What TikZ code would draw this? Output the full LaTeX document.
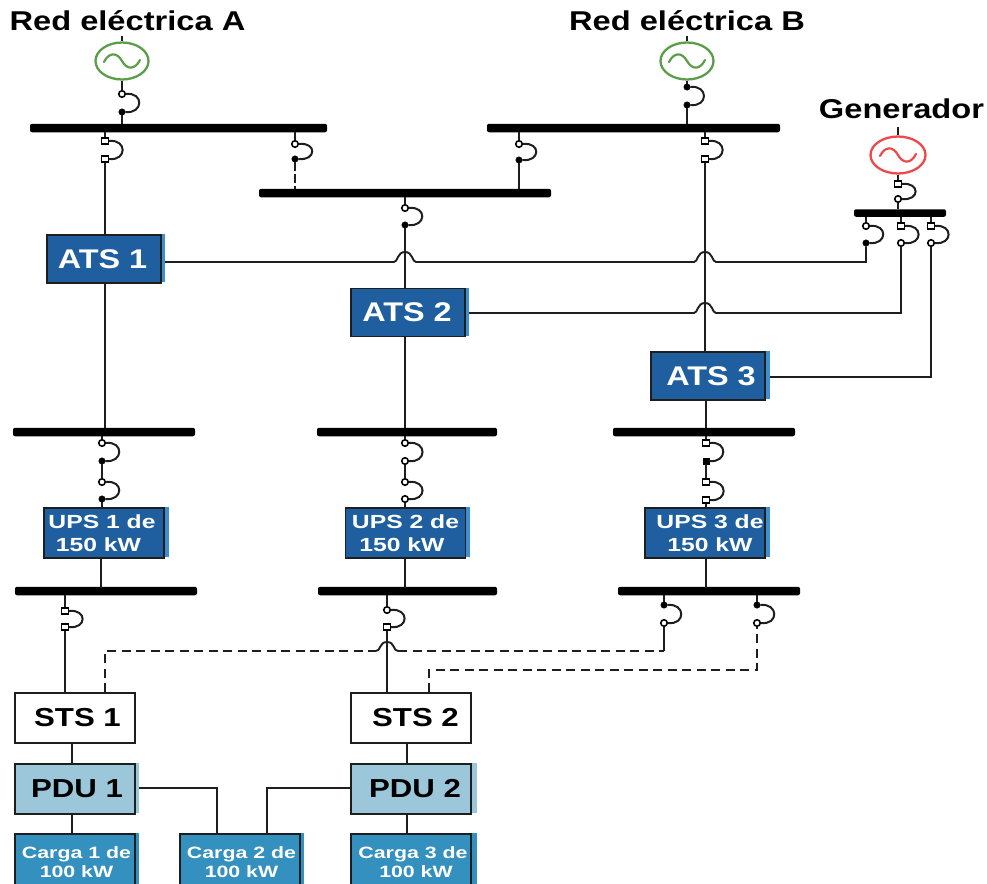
\documentclass[tikz,border=0pt]{standalone}
\usepackage{fontspec}
\usetikzlibrary{shapes.geometric}
\newfontfamily\labA{Liberation Sans}[FakeStretch=1.2]
\newfontfamily\labB{Liberation Sans}[FakeStretch=1.3]
\definecolor{atsblue}{HTML}{1F5F9F}
\definecolor{stripblue}{HTML}{3F8FD0}
\definecolor{pdublue}{HTML}{9CC6DA}
\definecolor{cargablue}{HTML}{3490BE}
\definecolor{wire}{HTML}{1E1E1E}
\definecolor{genA}{HTML}{5A9E48}
\definecolor{genR}{HTML}{F04848}
\tikzset{
  wireline/.style={draw=wire,line width=1.9pt},
  dashline/.style={wireline,dash pattern=on 9pt off 5.5pt},
  busbar/.style={fill=black,rectangle,rounded corners=2pt,inner sep=0pt,minimum height=8.5pt},
  tsq/.style={rectangle,draw=black,fill=white,line width=1.3pt,inner sep=0pt,minimum width=7pt,minimum height=6pt},
  tci/.style={circle,draw=black,fill=white,line width=1.6pt,inner sep=0pt,minimum size=6.5pt},
  tdot/.style={circle,draw=black,fill=black,inner sep=0pt,minimum size=6.5pt},
  tbsq/.style={rectangle,draw=black,fill=black,inner sep=0pt,minimum size=6.5pt},
  gen/.style={ellipse,draw,line width=2.3pt,inner sep=0pt,minimum width=53pt,minimum height=37pt},
  boxbase/.style={rectangle,draw=wire,line width=1.8pt,inner sep=0pt,align=center},
  atsbox/.style={boxbase,fill=atsblue,text=white,minimum width=114pt,minimum height=48pt,font=\labA\bfseries\fontsize{27}{27}\selectfont},
  upsbox/.style={boxbase,fill=atsblue,text=white,minimum width=120pt,minimum height=50pt,font=\labB\bfseries\fontsize{19}{23}\selectfont},
  stsbox/.style={boxbase,fill=white,text=black,minimum width=120pt,minimum height=50pt,font=\labA\bfseries\fontsize{26}{26}\selectfont},
  pdubox/.style={boxbase,fill=pdublue,text=black,minimum width=120pt,minimum height=50pt,font=\labA\bfseries\fontsize{26}{26}\selectfont},
  cargabox/.style={boxbase,fill=cargablue,text=white,minimum width=120pt,minimum height=56pt,font=\labB\bfseries\fontsize{16.4}{19}\selectfont},
  title/.style={inner sep=0pt,text=black,font=\labA\bfseries\fontsize{27.2}{28}\selectfont},
}
% name, x, y top, y bottom, style top, style bottom
\newcommand{\breaker}[6]{%
  \node[#5] (#1t) at (#2,#3) {};
  \node[#6] (#1b) at (#2,#4) {};
  \draw[wire,line width=2pt] (#1t.east) .. controls +(18,-2) and +(18,2) .. (#1b.east);
}
% arch over a vertical wire at x, wire height y
\newcommand{\arch}[2]{-- (#1-11,#2) .. controls (#1-7,#2) and (#1-8,#2-10) .. (#1,#2-10) .. controls (#1+8,#2-10) and (#1+7,#2) .. (#1+11,#2)}
\newcommand{\sinewave}[3]{%
  \draw[#3,line width=2.2pt,line cap=round] (#1-18,#2+1) .. controls (#1-13,#2-9) and (#1-5,#2-9) .. (#1,#2) .. controls (#1+5,#2+9) and (#1+13,#2+9) .. (#1+18,#2-1);
}
\begin{document}
\begin{tikzpicture}[x=1pt,y=-1pt]
\useasboundingbox (0,0) rectangle (987,883);
\clip (0,0) rectangle (987,883);
\fill[white] (0,0) rectangle (987,883);

% titles
\node[title] (tA) at (127.5,21) {Red eléctrica A};
\node[title] (tB) at (687,21) {Red eléctrica B};
\node[title] (tG) at (901.5,109) {Generador};

% generators
\node[gen,draw=genA] (gA) at (122,61) {};
\node[gen,draw=genA] (gB) at (687,61) {};
\node[gen,draw=genR,minimum width=55pt] (gG) at (898,155) {};
\sinewave{122}{61}{genA}
\sinewave{687}{61}{genA}
\sinewave{898}{155}{genR}
\coordinate (sA) at (122,36);
\coordinate (sB) at (687,36);
\coordinate (sG) at (898,127);
\draw[wireline] (sA) -- (gA.north);
\draw[wireline] (sB) -- (gB.north);
\draw[wireline] (sG) -- (gG.north);

% bus bars
\node[busbar,minimum width=297pt] (busA) at (178.5,128) {};
\node[busbar,minimum width=293pt] (busB) at (633.5,128) {};
\node[busbar,minimum width=292pt] (busC) at (405,193) {};
\node[busbar,minimum width=92pt,minimum height=7.5pt] (busG) at (900,213) {};
\node[busbar,minimum width=182pt] (busD1) at (104,432) {};
\node[busbar,minimum width=180pt] (busD2) at (407,432) {};
\node[busbar,minimum width=182pt] (busD3) at (704,432) {};
\node[busbar,minimum width=182pt] (busE1) at (106,591) {};
\node[busbar,minimum width=179pt] (busE2) at (407.5,591) {};
\node[busbar,minimum width=182pt] (busE3) at (709,591) {};

% boxes
\node[atsbox] (ats1) at (104,259) {\hspace*{-3pt}ATS 1};
\node[atsbox] (ats2) at (408,312.5) {\hspace*{-2pt}ATS 2};
\node[atsbox] (ats3) at (708,376) {\hspace*{6pt}ATS 3};
\node[upsbox] (ups1) at (104,533) {\hspace*{-4pt}UPS 1 de\\\hspace*{-11pt}150 kW};
\node[upsbox] (ups2) at (405.5,533) {UPS 2 de\\\hspace*{-7pt}150 kW};
\node[upsbox] (ups3) at (705,533) {\hspace*{10pt}UPS 3 de\\\hspace*{10pt}150 kW};
\node[stsbox] (sts1) at (75,718) {\hspace*{5pt}STS 1};
\node[stsbox] (sts2) at (411,718) {\hspace*{9pt}STS 2};
\node[pdubox] (pdu1) at (75,789) {\hspace*{4pt}PDU 1};
\node[pdubox] (pdu2) at (411,789) {\hspace*{8pt}PDU 2};
\node[cargabox] (c1) at (75,862) {\hspace*{3pt}Carga 1 de\\\hspace*{3pt}100 kW};
\node[cargabox] (c2) at (240,862) {\hspace*{3pt}Carga 2 de\\\hspace*{3pt}100 kW};
\node[cargabox] (c3) at (411,862) {\hspace*{4pt}Carga 3 de\\\hspace*{10pt}100 kW};

% breakers
\breaker{bA}{122}{94}{112}{tci}{tdot}
\breaker{bB}{687}{87}{105}{tdot}{tdot}
\breaker{bG}{898}{184}{199}{tsq}{tci}
\breaker{bA1}{105}{141}{159}{tsq}{tsq}
\breaker{bA2}{295}{144}{159}{tci}{tdot}
\breaker{bB1}{519}{144}{160}{tci}{tdot}
\breaker{bB2}{705}{141}{159}{tsq}{tsq}
\breaker{bC}{405}{208}{225}{tci}{tdot}
\breaker{bG1}{866}{226}{243}{tci}{tdot}
\breaker{bG2}{901}{226}{243}{tsq}{tci}
\breaker{bG3}{931}{226}{243}{tsq}{tci}
\breaker{bU1}{102}{443}{461}{tci}{tdot}
\breaker{bV1}{102}{482}{499}{tci}{tdot}
\breaker{bU2}{405}{443}{461}{tci}{tci}
\breaker{bV2}{405}{482}{499}{tci}{tci}
\breaker{bU3}{706}{443}{461}{tsq}{tbsq}
\breaker{bV3}{706}{482}{500}{tsq}{tsq}
\breaker{bE1}{65}{611}{627}{tsq}{tsq}
\breaker{bE2}{387}{610}{627}{tci}{tsq}
\breaker{bE3}{664}{605}{623}{tdot}{tci}
\breaker{bE4}{757}{605}{623}{tdot}{tci}

% top section connectors
\draw[wireline] (gA.south) -- (bAt);
\draw[wireline] (bAb) -- (bAb |- busA.north);
\draw[wireline] (gB.south) -- (bBt);
\draw[wireline] (bBb) -- (bBb |- busB.north);
\draw[wireline] (gG.south) -- (bGt);
\draw[wireline] (bGb) -- (bGb |- busG.north);
\draw[wireline] (bA1t) -- (bA1t |- busA.south);
\draw[wireline] (bA1b) -- (bA1b |- ats1.north);
\draw[wireline] (bA2t) -- (bA2t |- busA.south);
\draw[dashline,dash pattern=on 9pt off 3pt] (bA2b) -- (bA2b |- busC.north);
\draw[wireline] (bB1t) -- (bB1t |- busB.south);
\draw[wireline] (bB1b) -- (bB1b |- busC.north);
\draw[wireline] (bB2t) -- (bB2t |- busB.south);
\draw[wireline] (bB2b) -- (bB2b |- ats3.north);
\draw[wireline] (bCt) -- (bCt |- busC.south);
\draw[wireline] (bCb) -- (bCb |- ats2.north);
\draw[wireline] (bG1t) -- (bG1t |- busG.south);
\draw[wireline] (bG2t) -- (bG2t |- busG.south);
\draw[wireline] (bG3t) -- (bG3t |- busG.south);

% ATS to generator with arches
\draw[wireline] (ats1.east) ++(0,3) \arch{405}{262} \arch{705}{262} -| (bG1b);
\draw[wireline] (ats2.east) ++(0,0.5) \arch{705}{313} -| (bG2b);
\draw[wireline] (ats3.east) ++(0,1) -| (bG3b);

% ATS to second bus row
\draw[wireline] (bA1b |- ats1.south) -- (bA1b |- busD1.north);
\draw[wireline] (bCb |- ats2.south) -- (bCb |- busD2.north);
\draw[wireline] (bU3t |- ats3.south) -- (bU3t |- busD3.north);

% UPS chains
\foreach \n in {1,2,3}{
  \draw[wireline] (bU\n t) -- (bU\n t |- busD\n.south);
  \draw[wireline] (bU\n b) -- (bV\n t);
  \draw[wireline] (bV\n b) -- (bV\n b |- ups\n.north);
}
\draw[wireline] (ups1.south) ++(-3,0) -- ++(0,29);
\draw[wireline] (ups2.south) ++(-0.5,0) -- ++(0,29);
\draw[wireline] (ups3.south) ++(1,0) -- ++(0,29);

% third row breakers
\draw[wireline] (bE1t) -- (bE1t |- busE1.south);
\draw[wireline] (bE1b) -- (bE1b |- sts1.north);
\draw[wireline] (bE2t) -- (bE2t |- busE2.south);
\draw[wireline] (bE2b) -- (bE2b |- sts2.north);
\draw[wireline] (bE3t) -- (bE3t |- busE3.south);
\draw[wireline] (bE4t) -- (bE4t |- busE3.south);

% dashed alternate feeds
\coordinate (dj1) at (376,651);
\coordinate (dj2) at (398,651);
\coordinate (dj3) at (664,651);
\draw[dashline] (sts1.north) ++(30,0) |- (dj1);
\draw[wireline] (dj1) .. controls (381,651) and (379,642) .. (387,642) .. controls (395,642) and (393,651) .. (dj2);
\draw[dashline] (dj2) -- (dj3);
\draw[wireline] (dj3) -- (bE3b);
\coordinate (dj4) at (757,670);
\draw[dashline] (sts2.north) ++(18,0) |- (dj4) -- (bE4b);

% lower chain
\coordinate (c2a) at (217,834);
\coordinate (c2b) at (267,834);
\draw[wireline] (sts1.south) ++(-3,0) -- ++(0,21);
\draw[wireline] (sts2.south) ++(-4,0) -- ++(0,21);
\draw[wireline] (pdu1.south) ++(-3,0) -- ++(0,20);
\draw[wireline] (pdu2.south) ++(-4,0) -- ++(0,20);
\draw[wireline] (pdu1.east) ++(3,-1) -| (c2a);
\draw[wireline] (pdu2.west) ++(0,-1) -| (c2b);

% right edge strips
\fill[stripblue] (ups1.north east) rectangle ++(4,50);
\fill[stripblue] (ups2.north east) rectangle ++(4,50);
\fill[stripblue] (ups3.north east) rectangle ++(4,50);
\fill[stripblue] (ats1.north east) rectangle ++(3,48);
\fill[stripblue] (ats2.north east) rectangle ++(3,48);
\fill[stripblue] (ats3.north east) rectangle ++(4,48);
\fill[pdublue] (pdu1.north east) rectangle ++(3,50);
\fill[pdublue] (pdu2.north east) rectangle ++(5,50);
\fill[cargablue] (c1.north east) rectangle ++(3,56);
\fill[cargablue] (c2.north east) rectangle ++(3,56);
\fill[cargablue] (c3.north east) rectangle ++(5,56);
\end{tikzpicture}
\end{document}
